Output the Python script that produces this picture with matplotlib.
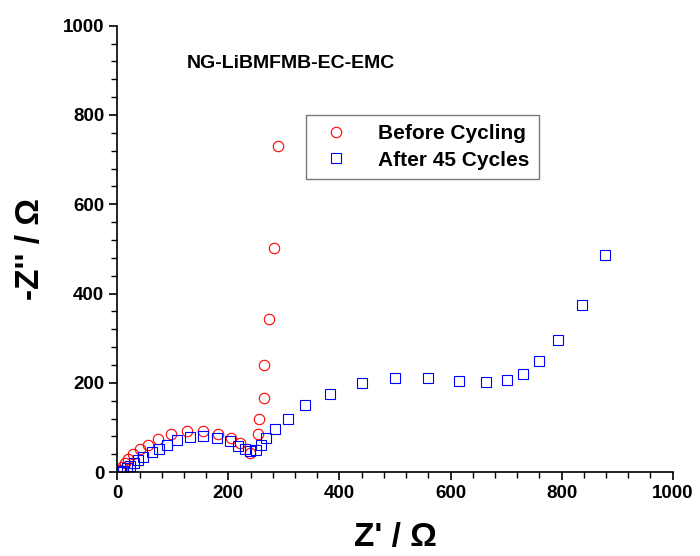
import numpy as np
import matplotlib.pyplot as plt
from matplotlib.ticker import MultipleLocator

plt.rcParams['font.family'] = ['Liberation Sans', 'DejaVu Sans']
plt.rcParams['font.weight'] = 'bold'

# Before cycling (red circles)
x_before = np.array([4, 8, 14, 20, 29, 41, 55, 73, 96, 125, 155, 182, 205, 220,
                     238, 253, 256, 264, 265, 274, 282, 289])
y_before = np.array([5, 12, 21, 30, 40, 52, 62, 74, 85, 92, 92, 85, 76, 66,
                     43, 86, 120, 166, 239, 342, 502, 731])

# After 45 cycles (blue squares)
x_after = np.array([6, 11, 17, 23, 30, 38, 47, 62, 75, 90, 107, 131, 155, 179,
                    202, 218, 229, 239, 249, 258, 268, 284, 308, 338, 383, 440,
                    500, 560, 616, 664, 702, 731, 759, 794, 836, 879])
y_after = np.array([0, 3, 9, 14, 20, 27, 35, 46, 53, 62, 72, 78, 80, 77,
                    70, 59, 51, 48, 50, 61, 76, 96, 119, 150, 175, 200,
                    212, 212, 205, 202, 206, 221, 248, 295, 374, 486])

fig = plt.figure(figsize=(7, 5.56), dpi=100)
ax = fig.add_axes([0.1676, 0.1507, 0.7934, 0.8031])

ax.plot(x_before, y_before, linestyle='none', marker='o', markersize=7.5,
        markerfacecolor='none', markeredgecolor='red', markeredgewidth=0.8,
        label='Before Cycling')
ax.plot(x_after, y_after, linestyle='none', marker='s', markersize=7,
        markerfacecolor='none', markeredgecolor='blue', markeredgewidth=0.8,
        label='After 45 Cycles')

ax.set_xlim(0, 1000)
ax.set_ylim(0, 1000)
ax.xaxis.set_major_locator(MultipleLocator(200))
ax.yaxis.set_major_locator(MultipleLocator(200))
ax.xaxis.set_minor_locator(MultipleLocator(40))
ax.yaxis.set_minor_locator(MultipleLocator(40))
ax.spines['top'].set_visible(False)
ax.spines['right'].set_visible(False)
ax.spines['left'].set_linewidth(1.2)
ax.spines['bottom'].set_linewidth(1.2)
ax.tick_params(which='major', direction='out', length=6, width=1.2, labelsize=13.5)
ax.tick_params(which='minor', direction='out', length=4, width=1.0)
for lab in ax.get_xticklabels() + ax.get_yticklabels():
    lab.set_fontweight('bold')

ax.set_xlabel("Z' / \u03a9", fontsize=24, fontweight='bold', labelpad=14)
ax.set_ylabel("-Z'' / \u03a9", fontsize=24, fontweight='bold', labelpad=12)

ax.text(0.125, 0.915, 'NG-LiBMFMB-EC-EMC', transform=ax.transAxes,
        fontsize=14, fontweight='bold', va='center')

leg = ax.legend(loc='upper left', bbox_to_anchor=(0.34, 0.80), frameon=True,
                fancybox=False, edgecolor='#555555', prop={'size': 15, 'weight': 'bold'},
                handletextpad=1.0, borderpad=0.45, labelspacing=0.35, handlelength=2.0,
                borderaxespad=0)
leg.get_frame().set_linewidth(1.0)

fig.savefig('out.png', dpi=100)
